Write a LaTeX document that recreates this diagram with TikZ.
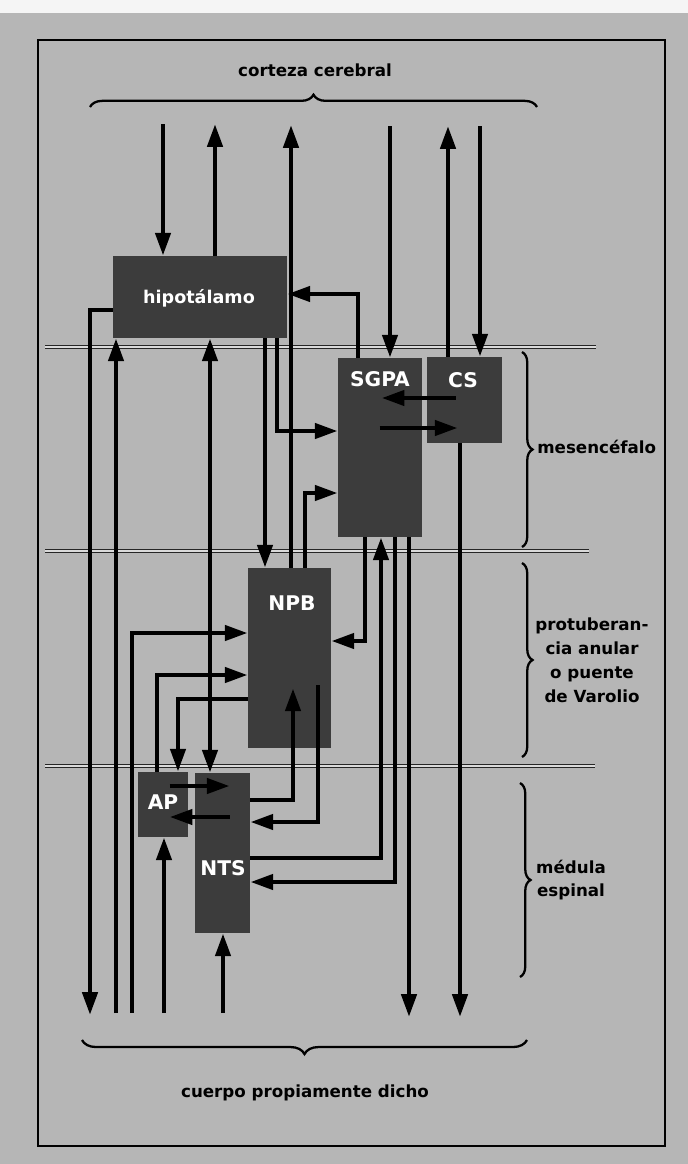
\documentclass[tikz,border=0pt]{standalone}
\usepackage{fontspec}
\setmainfont{DejaVu Sans}
\usetikzlibrary{arrows.meta,decorations.pathreplacing,fit,calc}
\definecolor{bg}{HTML}{B6B6B6}
\definecolor{boxc}{HTML}{3C3C3C}
\tikzset{
  box/.style={fill=boxc, draw=none, inner sep=0pt},
  boxlabel/.style={text=white, font=\bfseries\fontsize{11.5}{13}\selectfont, inner sep=0pt},
  region/.style={text=black, font=\bfseries\fontsize{9.5}{13.6}\selectfont, inner sep=0pt},
  tip/.style={},
  conn/.style={line width=2.6pt, -{Triangle[length=13pt,width=8.5pt]}},
  dconn/.style={line width=2.6pt, {Triangle[length=13pt,width=8.5pt]}-{Triangle[length=13pt,width=8.5pt]}},
  divider/.style={draw=black!85, line width=0.6pt, double=bg!50!white, double distance=1.3pt},
  brc/.style={decorate, decoration={brace, amplitude=#1}, line width=1.3pt},
  frame/.style={draw=black, line width=0.8pt}
}
\begin{document}
\begin{tikzpicture}[x=0.02cm, y=-0.02cm]
\useasboundingbox (0,0) rectangle (688,1164);
\fill[bg] (0,0) rectangle (688,1164);
\fill[white!92!gray] (0,0) rectangle (688,13);
\draw[frame] (38,40) rectangle (665,1146);

% dividers
\draw[divider] (45,347) -- (596,347);
\draw[divider] (45,551) -- (589,551);
\draw[divider] (45,766) -- (595,766);

% boxes
\node[box, fit={(113,256) (287,338)}] (hyp) {};
\node[box, fit={(338,358) (422,537)}] (sgpa) {};
\node[box, fit={(427,357) (502,443)}] (cs) {};
\node[box, fit={(248,568) (331,748)}] (npb) {};
\node[box, fit={(138,772) (188,837)}] (ap) {};
\node[box, fit={(195,773) (250,933)}] (nts) {};

% free ends
\coordinate (cx1) at (163,124);
\coordinate (cx2) at (215,124);
\coordinate (cx3) at (291,125);
\coordinate (cx4) at (390,126);
\coordinate (cx5) at (448,126);
\coordinate (cx6) at (480,126);
\coordinate (bd1) at (90,1015);
\coordinate (bd2) at (116,1013);
\coordinate (bd3) at (132,1013);
\coordinate (bd4) at (164,1013);
\coordinate (bd5) at (223,1013);
\coordinate (bd6) at (460,1017);
\coordinate (bd7) at (409,1017);

% cortex connections
\draw[conn] (cx1) -- (hyp.north -| cx1);
\draw[conn] (hyp.north -| cx2) -- (cx2);
\draw[conn] (npb.north -| cx3) -- (cx3);
\draw[conn] (cx4) -- (sgpa.north -| cx4);
\draw[conn] (cs.north -| cx5) -- (cx5);
\draw[conn] (cx6) -- (cs.north -| cx6);

% hypothalamus
\draw[conn] (sgpa.north -| 358,0) |- (hyp.east |- 0,294);
\draw[conn] (hyp.west |- 0,310) -| (bd1);
\draw[conn] (bd2) -- (hyp.south -| bd2);
\draw[conn] (bd3) |- (npb.west |- 0,633);
\draw[conn] (bd4) -- (ap.south -| bd4);
\draw[conn] (bd5) -- (nts.south -| bd5);
\draw[dconn] (hyp.south -| 210,0) -- (nts.north -| 210,0);
\draw[conn] (hyp.south -| 265,0) -- (npb.north -| 265,0);
\draw[conn] (hyp.south -| 277,0) |- (sgpa.west |- 0,431);
\draw[conn] (npb.north -| 305,0) |- (sgpa.west |- 0,493);

% SGPA / CS
\draw[conn] ($(cs.west |- 0,398)+(29,0)$) -- ($(sgpa.west |- 0,398)+(44,0)$);
\draw[conn] ($(sgpa.west |- 0,428)+(42,0)$) -- ($(cs.west |- 0,428)+(31,0)$);
\draw[conn] (cs.south -| bd6) -- (bd6);
\draw[conn] (sgpa.south -| 365,0) |- (npb.east |- 0,641);
\draw[conn] (nts.east |- 0,858) -| (sgpa.south -| 381,0);
\draw[conn] (sgpa.south -| 395,0) |- (nts.east |- 0,882);
\draw[conn] (sgpa.south -| bd7) -- (bd7);

% NPB / AP / NTS
\draw[conn] (ap.north -| 157,0) |- (npb.west |- 0,675);
\draw[conn] (npb.west |- 0,699) -| (ap.north -| 178,0);
\draw[conn] ($(ap.west |- 0,786)+(32,0)$) -- ($(nts.west |- 0,786)+(35,0)$);
\draw[conn] ($(nts.west |- 0,817)+(35,0)$) -- ($(ap.west |- 0,817)+(32,0)$);
\draw[conn] (nts.east |- 0,800) -| ($(npb.south -| 293,0)+(0,-60)$);
\draw[conn] ($(npb.south -| 318,0)+(0,-63)$) |- (nts.east |- 0,822);

% braces
\draw[brc=7pt] (90,107) -- (537,107);
\draw[brc=8pt] (527,1040) -- (82,1040);
\draw[brc=6pt] (522,352) -- (522,547);
\draw[brc=6pt] (522,563) -- (522,757);
\draw[brc=6pt] (520,783) -- (520,977);

% box labels
\node[boxlabel, font=\bfseries\fontsize{10}{12}\selectfont] (lhyp) at (199,298) {hipotálamo};
\node[boxlabel] (lsgpa) at (380,379) {SGPA};
\node[boxlabel] (lcs) at (463,380) {CS};
\node[boxlabel] (lnpb) at (292,603) {NPB};
\node[boxlabel] (lap) at (163,802) {AP};
\node[boxlabel] (lnts) at (223,868) {NTS};

% region labels
\node[region] (lcort) at (315,70) {corteza cerebral};
\node[region] (lbody) at (305,1093) {cuerpo propiamente dicho};
\node[region, anchor=west] (lmes) at (537,447) {mesencéfalo};
\node[region, align=center] (lpro) at (592,660) {protuberan-\\cia anular\\o puente\\de Varolio};
\node[region, align=center] (lmed) at (571,880) {médula\\espinal};
\end{tikzpicture}
\end{document}
